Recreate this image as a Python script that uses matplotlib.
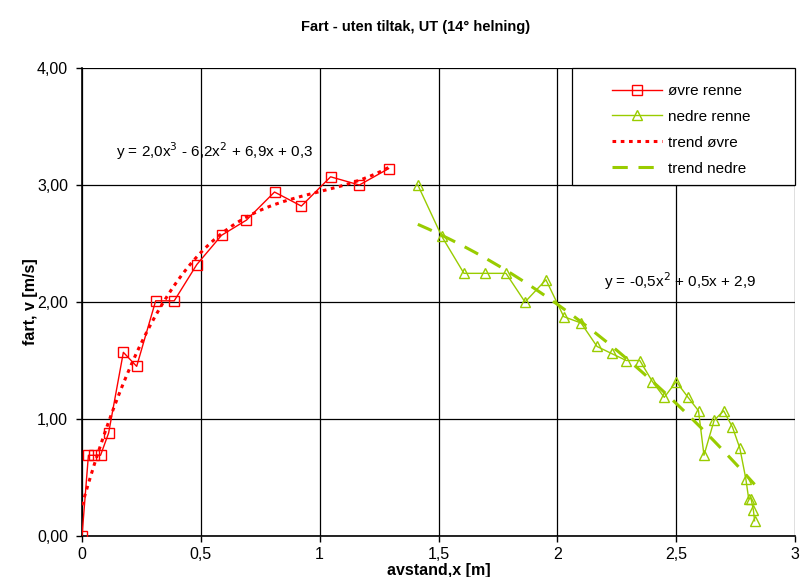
import matplotlib.pyplot as plt
import matplotlib.patches as mpatches
import numpy as np

# Data
x_ovre = [0.0, 0.027, 0.05, 0.078, 0.112, 0.174, 0.23, 0.31, 0.388, 0.483,
          0.587, 0.692, 0.81, 0.923, 1.046, 1.167, 1.29]
v_ovre = [0.0, 0.69, 0.69, 0.69, 0.88, 1.57, 1.45, 2.01, 2.01, 2.32,
          2.57, 2.70, 2.94, 2.82, 3.07, 3.00, 3.14]

x_nedre = [1.413, 1.514, 1.607, 1.696, 1.784, 1.864, 1.952, 2.027, 2.10, 2.167,
           2.228, 2.29, 2.347, 2.40, 2.45, 2.50, 2.55, 2.594, 2.617, 2.66,
           2.70, 2.737, 2.768, 2.793, 2.805, 2.815, 2.825, 2.83]
v_nedre = [3.00, 2.56, 2.245, 2.245, 2.245, 2.00, 2.19, 1.875, 1.82, 1.62,
           1.56, 1.50, 1.50, 1.32, 1.185, 1.32, 1.185, 1.07, 0.69, 0.99,
           1.07, 0.93, 0.75, 0.49, 0.32, 0.32, 0.22, 0.13]

x_ticks = [0, 0.5, 1, 1.5, 2, 2.5, 3]
x_tick_labels = ["0", "0,5", "1", "1,5", "2", "2,5", "3"]
y_ticks = [0, 1, 2, 3, 4]
y_tick_labels = ["0,00", "1,00", "2,00", "3,00", "4,00"]

red = "#FF0000"
green = "#99CC00"
font = ["Liberation Sans Narrow", "Liberation Sans", "DejaVu Sans"]
plt.rcParams["font.family"] = font

fig = plt.figure(figsize=(8.01, 5.77), dpi=100)
ax = fig.add_axes([82 / 801, 41 / 577, 713 / 801, 468 / 577])

# Trendlines (polynomial fits like Excel)
c3 = np.polyfit(x_ovre, v_ovre, 3)
xs1 = np.linspace(min(x_ovre), max(x_ovre), 200)
c2 = np.polyfit(x_nedre, v_nedre, 2)
xs2 = np.linspace(min(x_nedre), max(x_nedre), 200)

ax.plot(x_ovre, v_ovre, color=red, lw=1, marker="s", ms=7, mfc="none",
        mec=red, mew=1, label="øvre renne", zorder=3)
ax.plot(x_nedre, v_nedre, color=green, lw=1, marker="^", ms=7, mfc="none",
        mec=green, mew=1, label="nedre renne", zorder=3)
ax.plot(xs1, np.polyval(c3, xs1), color=red, lw=2.2, ls=(0, (1.2, 1.5)),
        label="trend øvre", zorder=4)
ax.plot(xs2, np.polyval(c2, xs2), color=green, lw=2.2, ls=(0, (5, 3.5)),
        label="trend nedre", zorder=4)

ax.set_xlim(0, 3)
ax.set_ylim(0, 4)
ax.set_xticks(x_ticks)
ax.set_xticklabels(x_tick_labels, fontsize=11.5)
ax.set_yticks(y_ticks)
ax.set_yticklabels(y_tick_labels, fontsize=11.5)
ax.tick_params(direction="out", length=4, width=1, color="black", pad=6)
ax.tick_params(axis="x", pad=4)
ax.grid(True, color="black", lw=0.9)
ax.set_axisbelow(True)
for side in ["top", "right"]:
    ax.spines[side].set_visible(False)
for side in ["left", "bottom"]:
    ax.spines[side].set_linewidth(1.2)

ax.text(0.145, 3.24, "y = 2,0x$^3$ - 6,2x$^2$ + 6,9x + 0,3", fontsize=11)
ax.text(2.195, 2.13, "y = -0,5x$^2$ + 0,5x + 2,9", fontsize=11)

# Legend box (white panel with border) and frameless legend inside
box = mpatches.Rectangle((490 / 713, 0.75), 1 - 490 / 713, 0.25,
                         transform=ax.transAxes, facecolor="white",
                         edgecolor="black", lw=0.9, zorder=5, clip_on=False)
ax.add_patch(box)
leg = ax.legend(loc="upper left", bbox_to_anchor=(530 / 713, 0.966),
                fontsize=11, frameon=False, borderaxespad=0, borderpad=0,
                handlelength=3.3, handletextpad=0.35, labelspacing=0.78)
leg.set_zorder(6)

fig.text(416 / 801, 1 - 27 / 577, "Fart - uten tiltak, UT (14° helning)",
         ha="center", va="center", fontsize=10.5, fontweight="bold")
fig.text(439 / 801, 1 - 570 / 577, "avstand,x [m]", ha="center",
         va="center", fontsize=11.5, fontweight="bold")
fig.text(30 / 801, 1 - 302 / 577, "fart, v [m/s]", ha="center",
         va="center", rotation=90, fontsize=11.5, fontweight="bold")

fig.savefig("out.png", dpi=100)
